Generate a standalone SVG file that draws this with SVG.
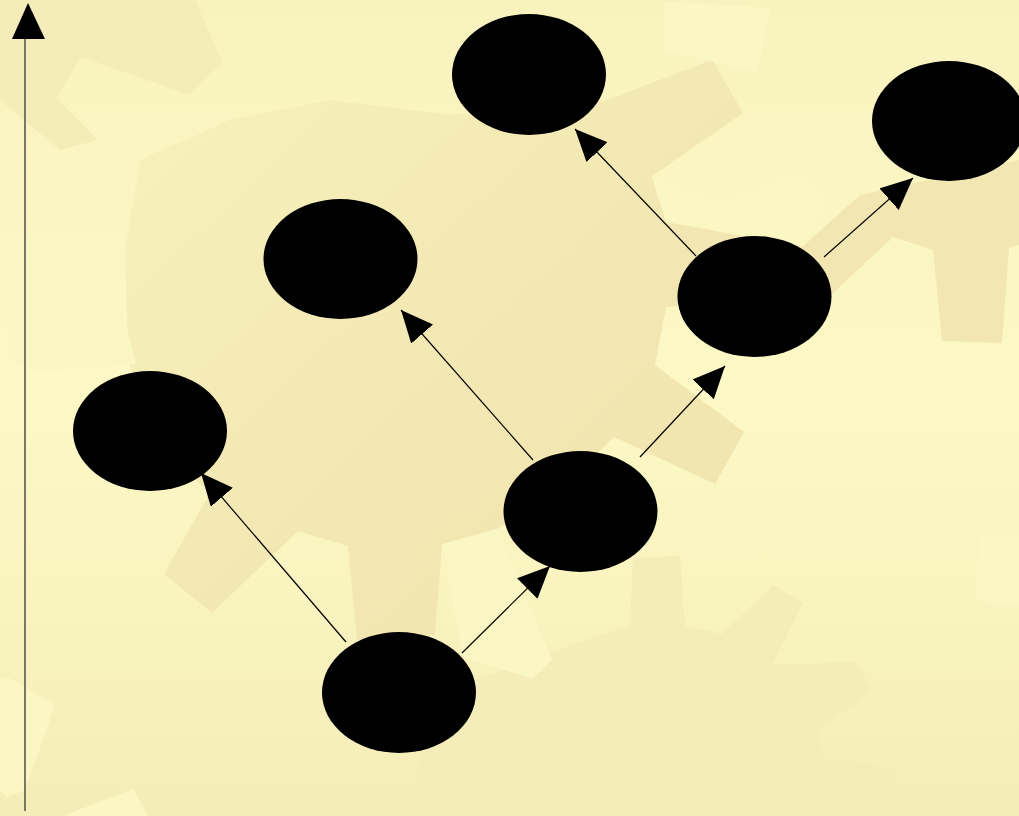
<svg xmlns="http://www.w3.org/2000/svg" width="1019" height="816" viewBox="0 0 1019 816">
  <defs>
    <linearGradient id="bg" x1="0" y1="0" x2="0" y2="1">
      <stop offset="0" stop-color="#f8f2be"/>
      <stop offset="0.48" stop-color="#fcf9c6"/>
      <stop offset="1" stop-color="#f5edb8"/>
    </linearGradient>
    <linearGradient id="gearFade" x1="0" y1="0" x2="1" y2="1">
      <stop offset="0" stop-color="#f8f2be"/>
      <stop offset="0.45" stop-color="#f3e9b4"/>
      <stop offset="1" stop-color="#f0e4ae"/>
    </linearGradient>
    <marker id="arrow" viewBox="0 0 32 29" refX="32" refY="14.5" markerWidth="32" markerHeight="29" markerUnits="userSpaceOnUse" orient="auto">
      <path d="M0,0 L32,14.5 L0,29 Z" fill="#000"/>
    </marker>
    <style>
      .dark { fill: #f2e7b2; }
      .fade { fill: url(#gearFade); }
      .mid { fill: #f5edb9; }
      .light { fill: #fbf7c4; }
      .node { fill: #000; }
      .edge { stroke: #000; stroke-width: 1.2; fill: none; marker-end: url(#arrow); }
    </style>
  </defs>

  <g id="background">
    <rect x="0" y="0" width="1019" height="816" fill="url(#bg)"/>
    <polygon class="mid" points="600,635 630,626 633,558 680,556 685,626 722,634 773,585 803,603 772,665 855,662 873,690 817,731 823,758 895,768 896,804 1019,790 1019,816 420,816 420,700"/>
    <polygon class="mid" points="0,0 195,0 222,62 190,95 81,57 56,98 98,140 60,150 0,100"/>
    <polygon class="fade" points="140,160 230,120 330,100 450,115 604,101 712,60 743,113 652,176 666,222 666,307 655,365 744,432 715,484 614,437 580,470 497,529 442,544 435,635 357,640 348,546 298,531 212,613 164,574 210,493 150,440 128,360 125,250"/>
    <polygon class="dark" points="700,228 802,247 860,195 1019,160 1019,245 1009,248 1002,343 942,341 933,250 893,237 833,293 760,300 666,307 666,222"/>
    <polygon class="light" points="652,176 720,205 797,172 826,200 802,247 757,233 666,222"/>
    <polygon class="light" points="443,544 497,529 552,660 532,679 463,657"/>
    <polygon class="light" points="665,2 663,50 757,72 770,8"/>
    <polygon class="light" points="6,297 123,312 136,364 40,372 10,360"/>
    <polygon class="light" points="0,678 9,678 55,705 25,790 7,797 0,790"/>
    <polygon class="light" points="63,816 133,789 148,816"/>
    <polygon class="light" points="980,535 1019,537 1019,605 975,600"/>
  </g>

  <g id="axis">
    <line x1="25" y1="811" x2="25" y2="38" stroke="#7b7762" stroke-width="2"/>
    <path d="M28,3 L45,39 L12,39 Z" fill="#000"/>
  </g>

  <g id="connectors">
    <line class="edge" x1="346" y1="642" x2="201" y2="473"/>
    <line class="edge" x1="462" y1="653" x2="550" y2="566"/>
    <line class="edge" x1="533" y1="460" x2="401" y2="310"/>
    <line class="edge" x1="640" y1="457" x2="725" y2="366"/>
    <line class="edge" x1="696" y1="256" x2="575" y2="129"/>
    <line class="edge" x1="824" y1="257" x2="913" y2="178"/>
  </g>

  <g id="node-a"><ellipse class="node" cx="399" cy="692.5" rx="77" ry="60.5"/></g>
  <g id="node-b"><ellipse class="node" cx="580.5" cy="511.5" rx="77" ry="60.5"/></g>
  <g id="node-c"><ellipse class="node" cx="150" cy="431" rx="77" ry="60"/></g>
  <g id="node-d"><ellipse class="node" cx="340.5" cy="259" rx="77" ry="60"/></g>
  <g id="node-e"><ellipse class="node" cx="754.5" cy="296.5" rx="77" ry="60.5"/></g>
  <g id="node-f"><ellipse class="node" cx="529" cy="74.5" rx="77" ry="60.5"/></g>
  <g id="node-g"><ellipse class="node" cx="949" cy="121" rx="77" ry="60"/></g>
</svg>
